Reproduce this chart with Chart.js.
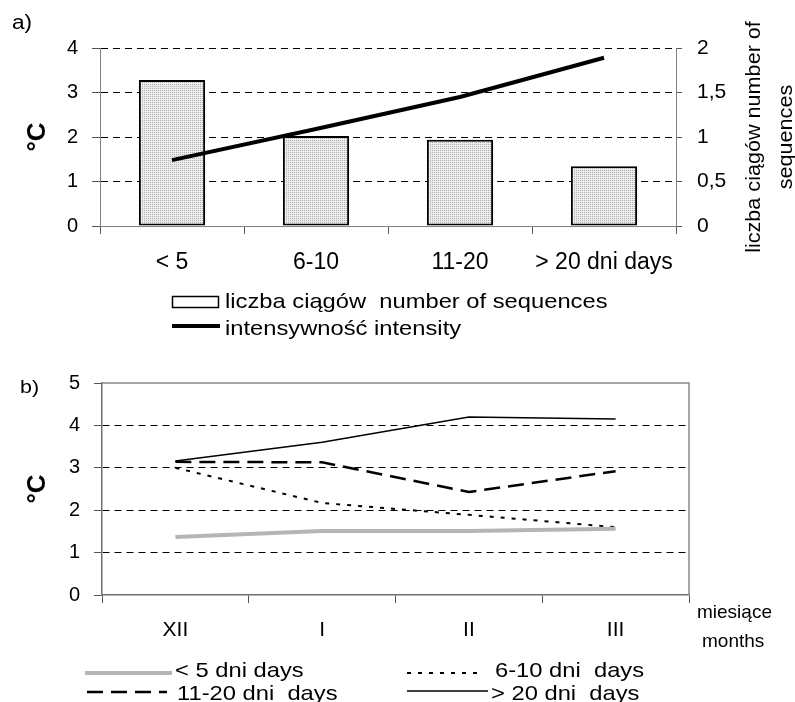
<!DOCTYPE html>
<html>
<head>
<meta charset="utf-8">
<script src="https://cdn.jsdelivr.net/npm/chart.js@4.4.0/dist/chart.umd.min.js"></script>
<style>
  body { margin: 0; background: #fff; }
  #wrap { position: relative; width: 795px; height: 702px; overflow: hidden; background: #fff;
          font-family: "Liberation Sans", Arial, sans-serif; color: #000; }
  #wrap canvas { position: absolute; left: 0; }
  #legendSvg { position: absolute; left: 0; top: 0; }
  .txt { position: absolute; font-size: 21px; line-height: 21px; white-space: pre;
         transform-origin: left center; }
  .wide { transform: scaleX(1.13); }
  #rightTitle { position: absolute; left: 769px; top: 137px; width: 0; height: 0; }
  #rightTitle div { position: absolute; transform: translate(-50%, -50%) rotate(-90deg) scaleX(1.08);
                    font-size: 20px; line-height: 32px; text-align: center; white-space: pre; }
</style>
</head>
<body>
<div id="wrap">
  <canvas id="chartA" width="795" height="275" style="top:0;width:795px;height:275px"></canvas>
  <canvas id="chartB" width="795" height="320" style="top:340px;width:795px;height:320px"></canvas>
  <svg id="legendSvg" width="795" height="702"></svg>

  <div class="txt wide" style="left:12px;top:12px;font-size:20px;line-height:20px">a)</div>
  <div class="txt wide" style="left:20px;top:377px;font-size:19px;line-height:19px">b)</div>
  <div id="rightTitle"><div>liczba ciągów number of
sequences</div></div>

  <div class="txt wide" style="left:225px;top:290px">liczba ciągów  number of sequences</div>
  <div class="txt wide" style="left:225px;top:317px">intensywność intensity</div>

  <div class="txt" style="left:697px;top:602px;font-size:19px;line-height:19px">miesiące</div>
  <div class="txt" style="left:702px;top:631px;font-size:19px;line-height:19px">months</div>

  <div class="txt wide" style="left:175px;top:659px">&lt; 5 dni days</div>
  <div class="txt wide" style="left:495px;top:659px">6-10 dni  days</div>
  <div class="txt wide" style="left:177px;top:682px">11-20 dni  days</div>
  <div class="txt wide" style="left:491px;top:682px">&gt; 20 dni  days</div>
</div>

<script>
// a) number of sequences (right axis) and intensity in °C (left axis)
const lengthClasses = ['< 5', '6-10', '11-20', '> 20 dni days'];
const sequenceCount = [1.64, 1.01, 0.97, 0.67];
const intensity = [1.48, 2.18, 2.9, 3.78];
const rightTickLabels = ['0', '0,5', '1', '1,5', '2'];

// b) intensity by month for each sequence length
const months = ['XII', 'I', 'II', 'III'];
const under5 = [1.37, 1.51, 1.51, 1.56];
const days6to10 = [3.0, 2.17, 1.89, 1.6];
const days11to20 = [3.14, 3.13, 2.43, 2.92];
const over20 = [3.16, 3.6, 4.2, 4.15];

const FONT = '"Liberation Sans", Arial, sans-serif';
const gridStyle = ctx => (ctx.tick && ctx.tick.value === 0) ? 'rgba(0,0,0,0)' : '#000';

// light dotted fill used by the bars
function dotPattern(ctx) {
  const c = document.createElement('canvas');
  c.width = 2; c.height = 2;
  const g = c.getContext('2d');
  g.fillStyle = '#ececec';
  g.fillRect(0, 0, 2, 2);
  g.fillStyle = '#b0b0b0';
  g.fillRect(0, 0, 1, 1);
  return ctx.createPattern(c, 'repeat');
}

const ctxA = document.getElementById('chartA').getContext('2d');
const lineStyleA = { borderColor: '#000', borderWidth: 4 };
const chartA = new Chart(ctxA, {
  type: 'bar',
  data: {
    labels: lengthClasses,
    datasets: [
      {
        type: 'line',
        label: 'intensywność intensity',
        data: intensity,
        yAxisID: 'y',
        ...lineStyleA,
        pointRadius: 0,
        tension: 0,
        order: 0
      },
      {
        label: 'liczba ciągów  number of sequences',
        data: sequenceCount,
        yAxisID: 'y2',
        backgroundColor: dotPattern(ctxA),
        borderColor: '#000',
        borderWidth: 2,
        borderSkipped: false,
        barPercentage: 0.46,
        categoryPercentage: 1,
        order: 1
      }
    ]
  },
  options: {
    responsive: false,
    animation: false,
    layout: { padding: { top: 48, left: 0, right: 0, bottom: 0 } },
    plugins: { legend: { display: false }, tooltip: { enabled: false } },
    scales: {
      x: {
        grid: { drawOnChartArea: false, tickLength: 8, tickColor: '#555', offset: true },
        border: { color: '#808080', width: 1 },
        ticks: { color: '#000', font: { family: FONT, size: 23 }, padding: 15,
                 maxRotation: 0, minRotation: 0, autoSkip: false },
        afterFit(s) { s.height = 49; }
      },
      y: {
        position: 'left',
        min: 0, max: 4,
        ticks: { stepSize: 1, color: '#000', font: { family: FONT, size: 20 }, padding: 14 },
        grid: { color: gridStyle, lineWidth: 1, tickLength: 8, tickColor: '#555' },
        border: { color: '#808080', width: 1, dash: [7, 5] },
        title: { display: true, text: '°C', color: '#000', font: { family: FONT, size: 26, weight: 'bold' }, padding: { top: 22 } },
        afterFit(s) { s.width = 100; }
      },
      y2: {
        position: 'right',
        min: 0, max: 2,
        ticks: { stepSize: 0.5, color: '#000', font: { family: FONT, size: 21 }, padding: 15,
                 callback: (v, i) => rightTickLabels[i] },
        grid: { drawOnChartArea: false, tickLength: 6, tickColor: '#555' },
        border: { color: '#808080', width: 1 },
        afterFit(s) { s.width = 119; }
      }
    }
  }
});

// grey frame on the top and right of chart b
const framePlugin = {
  id: 'frame',
  afterDraw(chart) {
    const { ctx, chartArea: a } = chart;
    ctx.save();
    ctx.strokeStyle = '#888';
    ctx.lineWidth = 1.5;
    ctx.beginPath();
    ctx.moveTo(a.left, a.top);
    ctx.lineTo(a.right, a.top);
    ctx.lineTo(a.right, a.bottom);
    ctx.stroke();
    ctx.restore();
  }
};

const seriesB = [
  { label: '< 5 dni days', data: under5, borderColor: '#b5b5b5', borderWidth: 4, borderDash: [] },
  { label: '6-10 dni  days', data: days6to10, borderColor: '#000', borderWidth: 2, borderDash: [4, 7] },
  { label: '11-20 dni  days', data: days11to20, borderColor: '#000', borderWidth: 2.5, borderDash: [16, 8] },
  { label: '> 20 dni  days', data: over20, borderColor: '#000', borderWidth: 1.5, borderDash: [] }
];

const ctxB = document.getElementById('chartB').getContext('2d');
const chartB = new Chart(ctxB, {
  type: 'line',
  data: { labels: months, datasets: seriesB },
  options: {
    responsive: false,
    animation: false,
    elements: { point: { radius: 0 }, line: { tension: 0 } },
    layout: { padding: { top: 43, left: 0, right: 106, bottom: 0 } },
    plugins: { legend: { display: false }, tooltip: { enabled: false } },
    scales: {
      x: {
        offset: true,
        grid: { drawOnChartArea: false, offset: true, tickLength: 8, tickColor: '#555' },
        border: { color: '#707070', width: 1.5 },
        ticks: { color: '#000', font: { family: FONT, size: 21 }, padding: 15, maxRotation: 0, autoSkip: false },
        afterFit(s) { s.height = 65; }
      },
      y: {
        min: 0, max: 5,
        ticks: { stepSize: 1, color: '#000', font: { family: FONT, size: 20 }, padding: 14 },
        grid: { color: ctx => (ctx.tick && (ctx.tick.value === 0 || ctx.tick.value === 5)) ? 'rgba(0,0,0,0)' : '#000',
                lineWidth: 1, tickLength: 8, tickColor: '#555' },
        border: { color: '#707070', width: 1.5, dash: [7, 5] },
        title: { display: true, text: '°C', color: '#000', font: { family: FONT, size: 26, weight: 'bold' }, padding: { top: 22 } },
        afterFit(s) { s.width = 102; }
      }
    }
  },
  plugins: [framePlugin]
});

// legend samples, styled from the datasets
const svg = document.getElementById('legendSvg');
function sample(x1, x2, y, stroke, width, dash) {
  const l = document.createElementNS('http://www.w3.org/2000/svg', 'line');
  l.setAttribute('x1', x1); l.setAttribute('x2', x2);
  l.setAttribute('y1', y); l.setAttribute('y2', y);
  l.setAttribute('stroke', stroke);
  l.setAttribute('stroke-width', width);
  if (dash && dash.length) l.setAttribute('stroke-dasharray', dash.join(' '));
  svg.appendChild(l);
}
const box = document.createElementNS('http://www.w3.org/2000/svg', 'rect');
box.setAttribute('x', 172.5); box.setAttribute('y', 296.5);
box.setAttribute('width', 46); box.setAttribute('height', 11);
box.setAttribute('fill', '#fff'); box.setAttribute('stroke', '#000'); box.setAttribute('stroke-width', 1.5);
svg.appendChild(box);
sample(172, 220, 326, lineStyleA.borderColor, lineStyleA.borderWidth);

const legendSpots = [[85, 172, 673], [407, 482, 673], [87, 167, 692], [407, 488, 691]];
seriesB.forEach((ds, i) => {
  const [x1, x2, y] = legendSpots[i];
  sample(x1, x2, y, ds.borderColor, ds.borderWidth, ds.borderDash);
});
</script>
</body>
</html>
